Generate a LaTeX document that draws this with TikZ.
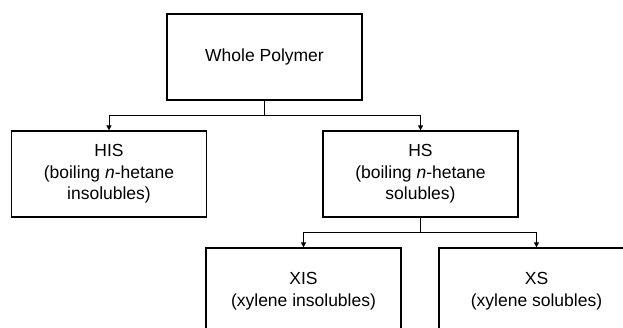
\documentclass[tikz,border=0pt]{standalone}
\usepackage{fontspec}
\setmainfont{Liberation Sans}
\usetikzlibrary{arrows.meta}
\tikzset{
  fraction/.style={draw, line width=1.2pt, minimum width=195pt, minimum height=86pt,
    inner sep=0pt, align=center, font=\fontsize{17.5}{21.5}\selectfont},
  split/.style={line width=1pt, -{Triangle[width=5pt,length=5pt]}}
}
\begin{document}
\begin{tikzpicture}[x=1pt,y=-1pt]
            \useasboundingbox (0,0) rectangle (623,328);
            \clip (0,0) rectangle (623,328);
            \node[fraction] (whole) at (264.5,57) {Whole Polymer};
            \node[fraction] (his) at (109,174) {HIS\\(boiling \textit{n}-hetane\\insolubles)};
            \node[fraction] (hs) at (420.5,174) {HS\\(boiling \textit{n}-hetane\\solubles)};
            \node[fraction] (xis) at (303.5,291) {XIS\\(xylene insolubles)};
            \node[fraction] (xs) at (536.5,291) {XS\\(xylene solubles)};
            % splitting steps
            \coordinate (j1) at (264.5,115.5);
            \coordinate (j2) at (420.5,232.5);
            \draw[line width=1pt] (whole.south) -- (j1);
            \draw[split] (j1) -| (his.north);
            \draw[split] (j1) -| (hs.north);
            \draw[line width=1pt] (hs.south) -- (j2);
            \draw[split] (j2) -| (xis.north);
            \draw[split] (j2) -| (xs.north);
        \end{tikzpicture}
\end{document}
